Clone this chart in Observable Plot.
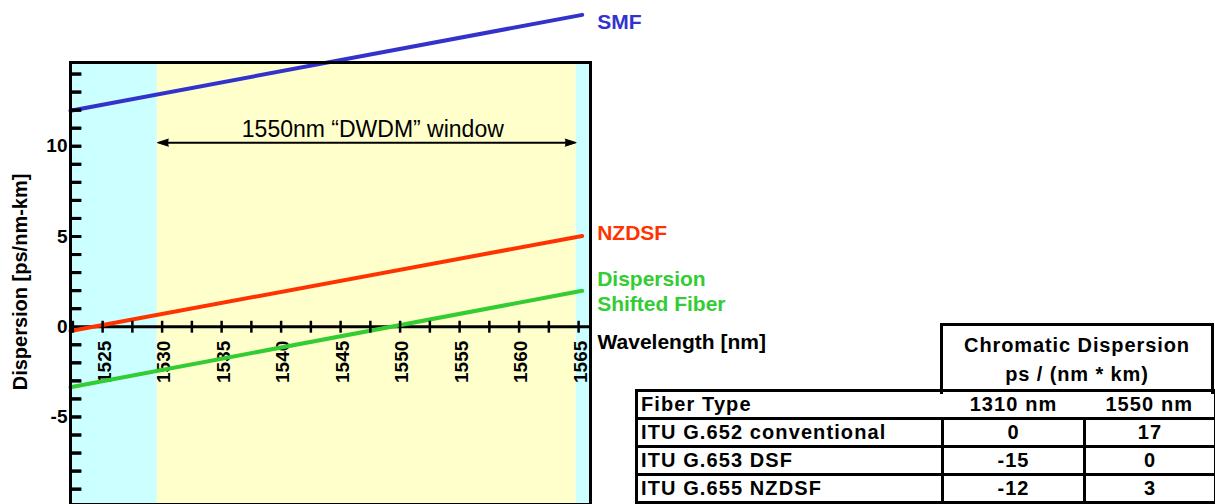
<!DOCTYPE html>
<html>
<head>
<meta charset="utf-8">
<script src="https://cdn.jsdelivr.net/npm/d3@7"></script>
<script src="https://cdn.jsdelivr.net/npm/@observablehq/plot@0.6"></script>
<style>
  html, body { margin: 0; padding: 0; background: #fff; }
  body { font-family: "Liberation Sans", Arial, sans-serif; }
  #wrap { position: relative; width: 1215px; height: 504px; overflow: hidden; }
  #hdr {
    position: absolute; left: 940px; top: 323px; width: 268px; height: 63px;
    border: 3px solid #000; border-bottom: none;
    font-weight: bold; font-size: 20px; line-height: 29px; text-align: center;
    letter-spacing: 0.9px; padding-top: 5px; box-sizing: content-box;
  }
  #tbl {
    position: absolute; left: 635px; top: 389px;
    border-collapse: collapse; font-weight: bold; font-size: 20px; letter-spacing: 1.1px;
    table-layout: fixed; width: 579px;
  }
  #tbl td { border: 3px solid #000; height: 23px; padding: 1px 3px; line-height: 23px; white-space: nowrap; }
  #tbl td.c { text-align: center; }
  #tbl tr.head td { border-left: none; border-right: none; }
  #tbl tr.head td:first-child { border-left: 3px solid #000; }
  #tbl tr.head td:last-child { border-right: 3px solid #000; }
</style>
</head>
<body>
<div id="wrap">
  <div id="chart"></div>
  <div id="hdr"></div>
  <table id="tbl"></table>
</div>
<script>
// ---- data ----
const wavelength = [1522.3, 1565.3];
const smf = [11.97, 17.28];
const nzdsf = [-0.24, 5.03];
const dsf = [-3.35, 1.99];

const seriesNames = ["SMF", "NZDSF", "Dispersion\nShifted Fiber"];
const seriesColors = ["#3333CC", "#FF3300", "#33CC33"];

const xTickLabels = [1525, 1530, 1535, 1540, 1545, 1550, 1555, 1560, 1565];
const xTicks = [1522.5, 1525, 1527.5, 1530, 1532.5, 1535, 1537.5, 1540, 1542.5, 1545, 1547.5, 1550, 1552.5, 1555, 1557.5, 1560, 1562.5, 1565];
const yTickLabels = [10, 5, 0, -5];
const yTicks = [-9, -8, -7, -6, -5, -4, -3, -2, -1, 1, 2, 3, 4, 5, 6, 7, 8, 9, 10, 11, 12, 13, 14];

const xDomain = [1522.3, 1566.0];
const yDomain = [-9.85, 14.64];
const windowRange = [1529.6, 1564.8];
const windowArrowY = 10.2;

const tableHeader = ["Chromatic Dispersion", "ps / (nm * km)"];
const tableColumns = ["Fiber Type", "1310 nm", "1550 nm"];
const fiberTypes = ["ITU G.652 conventional", "ITU G.653 DSF", "ITU G.655 NZDSF"];
const disp1310 = [0, -15, -12];
const disp1550 = [17, 0, 3];

// ---- derived tables ----
const bands = [
  {x1: xDomain[0], x2: windowRange[0], fill: "#CCFFFF"},
  {x1: windowRange[0], x2: windowRange[1], fill: "#FFFFCC"},
  {x1: windowRange[1], x2: xDomain[1], fill: "#CCFFFF"}
];
const seriesValues = [smf, nzdsf, dsf];
const lineData = seriesValues.flatMap((vals, s) =>
  wavelength.map((w, i) => ({series: seriesNames[s], w, v: vals[i], color: seriesColors[s]})));
const labelDy = [6, -4, 0];
const ends = seriesValues.map((vals, s) => ({
  w: wavelength[wavelength.length - 1], v: vals[vals.length - 1],
  text: seriesNames[s], color: seriesColors[s], dy: labelDy[s]
}));
const arrowHeads = [
  {x: windowRange[0], angle: -90},
  {x: windowRange[1], angle: 90}
];

const font = "'Liberation Sans', Arial, sans-serif";
const W = 1215, H = 504, mL = 70, mR = 625, mT = 62, mB = 0;
const plotWidth = W - mL - mR;
const yTickPx = 11;      // inner tick length, pixels
const yTickLen = 0.92;   // inner tick length along x (nm)
const xTickHalf = 0.33;  // half tick length along y (ps/nm-km)

const chart = Plot.plot({
  width: W, height: H,
  marginLeft: mL, marginRight: mR, marginTop: mT, marginBottom: mB,
  x: {domain: xDomain, axis: null},
  y: {domain: yDomain, axis: null},
  color: {type: "identity"},
  style: {fontFamily: font, background: "transparent", overflow: "visible"},
  marks: [
    Plot.rect(bands, {x1: "x1", x2: "x2", fill: "fill"}),
    Plot.ruleY([0], {stroke: "#000", strokeWidth: 3}),
    Plot.text(yTickLabels, {x: xDomain[0], y: d => d, text: d => String(d), textAnchor: "end", dx: -3, fontSize: 19, fontWeight: "bold", fill: "#000"}),
    Plot.text(xTickLabels, {x: d => d, y: 0, text: d => String(d), rotate: -90, textAnchor: "end", dx: 2, dy: 14, fontSize: 19, fontWeight: "bold", fill: "#000"}),
    Plot.text(["Wavelength [nm]"], {x: xDomain[1], y: 0, text: d => d, textAnchor: "start", dx: 7, dy: 16, fontSize: 21, fontWeight: "bold", fill: "#000"}),
    Plot.text(["Dispersion [ps/nm-km]"], {x: xDomain[0], y: 2.48, text: d => d, rotate: -90, dx: -50, fontSize: 20, fontWeight: "bold", fill: "#000"}),
    Plot.ruleY([windowArrowY], {x1: windowRange[0], x2: windowRange[1], stroke: "#000", strokeWidth: 2, insetLeft: 6, insetRight: 6}),
    Plot.vector(arrowHeads, {x: "x", y: windowArrowY, rotate: "angle", length: 11, r: 3.5, shape: "spike", anchor: "end", fill: "#000", stroke: "#000", strokeWidth: 1}),
    Plot.text(["1550nm \u201CDWDM\u201D window"], {x: (windowRange[0] + windowRange[1]) / 2, y: windowArrowY, text: d => d, dx: 6, dy: -13, fontSize: 23, fill: "#000"}),
    Plot.line(lineData, {x: "w", y: "v", z: "series", stroke: "color", strokeWidth: 4}),
    ...ends.map(e => Plot.text([e], {x: "w", y: "v", text: "text", fill: "color", dx: 15, dy: e.dy, textAnchor: "start", fontSize: 21, fontWeight: "bold", lineHeight: 1.2})),
    Plot.frame({stroke: "#000", strokeWidth: 3}),
    Plot.link(xTicks, {x1: d => d, x2: d => d, y1: () => -xTickHalf, y2: () => xTickHalf, stroke: "#000", strokeWidth: 2.5}),
    Plot.ruleY(yTicks, {y: d => d, insetRight: plotWidth - yTickPx, stroke: "#000", strokeWidth: 3}),
    Plot.link(yTicks, {x1: () => xDomain[0], x2: () => xDomain[0] + yTickLen, y1: d => d, y2: d => d, stroke: "#000", strokeWidth: 3})
  ]
});
document.getElementById("chart").appendChild(chart);

// ---- table ----
document.getElementById("hdr").innerHTML = tableHeader.map(t => `<div>${t}</div>`).join("");
const tbl = document.getElementById("tbl");
tbl.innerHTML =
  `<colgroup><col style="width:306px"><col style="width:142px"><col style="width:131px"></colgroup>` +
  `<tr class="head"><td>${tableColumns[0]}</td><td class="c">${tableColumns[1]}</td><td class="c">${tableColumns[2]}</td></tr>` +
  fiberTypes.map((f, i) => `<tr><td>${f}</td><td class="c">${disp1310[i]}</td><td class="c">${disp1550[i]}</td></tr>`).join("");
</script>
</body>
</html>
